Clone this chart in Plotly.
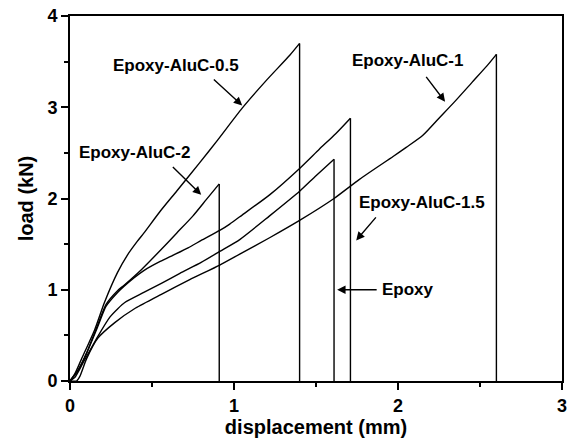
import plotly.graph_objects as go

# Load-displacement data (displacement in mm, load in kN)
x_alu05 = [0, 0.03, 0.07, 0.15, 0.21, 0.29, 0.35, 0.41, 0.45, 0.55, 0.65, 0.79, 0.90, 1.05, 1.20, 1.34, 1.40, 1.40]
y_alu05 = [0, 0.08, 0.24, 0.56, 0.86, 1.19, 1.38, 1.53, 1.62, 1.86, 2.08, 2.39, 2.64, 2.99, 3.30, 3.57, 3.70, 0]

x_alu2 = [0, 0.05, 0.10, 0.17, 0.22, 0.29, 0.33, 0.435, 0.55, 0.65, 0.75, 0.832, 0.91, 0.91]
y_alu2 = [0, 0.12, 0.30, 0.62, 0.84, 0.99, 1.05, 1.22, 1.43, 1.62, 1.81, 1.99, 2.16, 0]

x_alu15 = [0, 0.05, 0.10, 0.17, 0.22, 0.29, 0.33, 0.45, 0.55, 0.63, 0.72, 0.80, 0.913, 0.974, 1.035, 1.217, 1.40, 1.52, 1.62, 1.71, 1.71]
y_alu15 = [0, 0.12, 0.30, 0.60, 0.82, 0.97, 1.04, 1.21, 1.31, 1.38, 1.46, 1.54, 1.65, 1.72, 1.80, 2.04, 2.33, 2.54, 2.71, 2.88, 0]

x_epoxy = [0, 0.03, 0.08, 0.17, 0.243, 0.29, 0.334, 0.45, 0.557, 0.67, 0.80, 0.913, 1.035, 1.217, 1.40, 1.50, 1.61, 1.61]
y_epoxy = [0, 0.04, 0.20, 0.49, 0.70, 0.79, 0.86, 0.97, 1.07, 1.18, 1.30, 1.42, 1.55, 1.81, 2.08, 2.25, 2.43, 0]

x_alu1 = [0, 0.04, 0.06, 0.10, 0.17, 0.273, 0.40, 0.557, 0.73, 0.913, 1.035, 1.217, 1.40, 1.61, 1.765, 1.97, 2.05, 2.15, 2.25, 2.35, 2.45, 2.55, 2.60, 2.60]
y_alu1 = [0, 0.0, 0.05, 0.24, 0.47, 0.64, 0.80, 0.95, 1.11, 1.27, 1.39, 1.57, 1.76, 2.00, 2.21, 2.46, 2.56, 2.69, 2.88, 3.07, 3.27, 3.47, 3.58, 0]

series = [
    (x_alu05, y_alu05, "Epoxy-AluC-0.5"),
    (x_alu2, y_alu2, "Epoxy-AluC-2"),
    (x_alu15, y_alu15, "Epoxy-AluC-1.5"),
    (x_epoxy, y_epoxy, "Epoxy"),
    (x_alu1, y_alu1, "Epoxy-AluC-1"),
]

x_ticks = [0, 1, 2, 3]
y_ticks = [0, 1, 2, 3, 4]

fig = go.Figure()
for xs, ys, name in series:
    # loading branch (smoothed)
    fig.add_trace(go.Scatter(x=xs[:-1], y=ys[:-1], mode="lines", name=name,
                             line=dict(color="black", width=1.4, shape="spline", smoothing=0.6)))
    # brittle failure: vertical drop
    fig.add_trace(go.Scatter(x=xs[-2:], y=ys[-2:], mode="lines", name=name,
                             line=dict(color="black", width=1.4)))

FONT = "Liberation Sans, Arial, Helvetica, sans-serif"

# labels: (text, text_x, text_y, tail_x, tail_y, tip_x, tip_y)
labels = [
    ("Epoxy-AluC-0.5", 0.649, 3.46, 0.868, 3.32, 1.05, 3.02),
    ("Epoxy-AluC-2", 0.393, 2.50, 0.618, 2.36, 0.80, 2.04),
    ("Epoxy-AluC-1", 2.055, 3.51, 2.165, 3.35, 2.287, 3.06),
    ("Epoxy-AluC-1.5", 2.147, 1.96, 1.873, 1.81, 1.745, 1.54),
    ("Epoxy", 2.06, 1.00, 1.879, 1.00, 1.629, 1.00),
]

annotations = []
for text, tx, ty, ax, ay, hx, hy in labels:
    annotations.append(dict(x=tx, y=ty, xref="x", yref="y", text="<b>%s</b>" % text,
                            showarrow=False, font=dict(family=FONT, size=17, color="black"),
                            xanchor="center", yanchor="middle"))
    annotations.append(dict(x=hx, y=hy, xref="x", yref="y", ax=ax, ay=ay,
                            axref="x", ayref="y", text="", showarrow=True,
                            arrowhead=2, arrowsize=1.2, arrowwidth=1.4, arrowcolor="black",
                            standoff=0, startstandoff=0))

fig.update_layout(
    width=567, height=441,
    margin=dict(l=70, r=5, t=16, b=60, autoexpand=False),
    paper_bgcolor="white", plot_bgcolor="white",
    showlegend=False,
    font=dict(family=FONT, size=18, color="black"),
    annotations=annotations,
    xaxis=dict(range=[0, 3], tickvals=x_ticks, ticktext=["<b>%d</b>" % v for v in x_ticks],
               automargin=False, ticklabeloverflow="allow",
               ticks="outside", ticklen=7, tickwidth=1.5, tickcolor="black",
               minor=dict(dtick=0.5, ticks="outside", ticklen=4, tickwidth=1.5, tickcolor="black"),
               showline=True, linewidth=2, linecolor="black", mirror=True,
               showgrid=False, zeroline=False,
               tickfont=dict(family=FONT, size=18, color="black"),
               title=dict(text="<b>displacement (mm)</b>", font=dict(family=FONT, size=20, color="black"),
                          standoff=4)),
    yaxis=dict(range=[0, 4], tickvals=y_ticks, ticktext=["<b>%d</b>" % v for v in y_ticks],
               automargin=False, ticklabeloverflow="allow",
               ticks="outside", ticklen=7, tickwidth=1.5, tickcolor="black",
               minor=dict(dtick=0.5, ticks="outside", ticklen=4, tickwidth=1.5, tickcolor="black"),
               showline=True, linewidth=2, linecolor="black", mirror=True,
               showgrid=False, zeroline=False,
               tickfont=dict(family=FONT, size=18, color="black"),
               title=dict(text="<b>load (kN)</b>", font=dict(family=FONT, size=20, color="black"),
                          standoff=8)),
)

fig.write_html("out.html")
